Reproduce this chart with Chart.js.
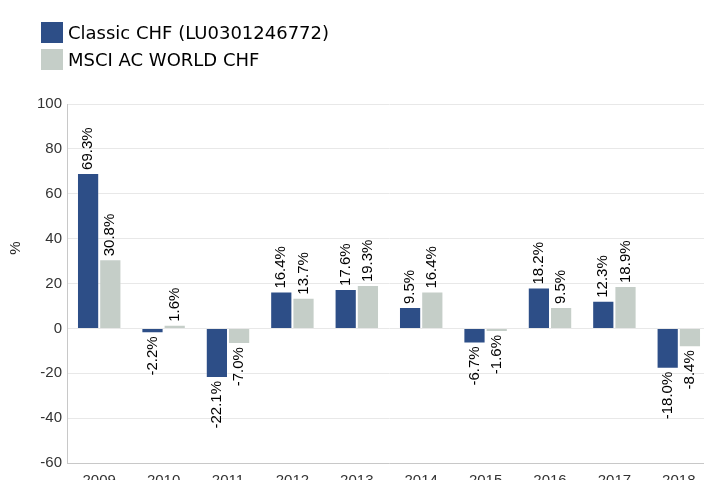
<!DOCTYPE html>
<html>
<head>
<meta charset="utf-8">
<script src="https://cdn.jsdelivr.net/npm/chart.js@4"></script>
<style>
  html, body { margin: 0; padding: 0; background: #fff; overflow: hidden; }
  #wrap { position: relative; width: 704px; height: 480px; overflow: hidden; }
  #chart { position: absolute; left: 0; top: 0; }
  #legend { position: absolute; left: 41px; top: 19px; font-family: "DejaVu Sans", sans-serif; font-size: 18px; color: #000; }
  #legend .item { display: flex; align-items: center; height: 27px; }
  #legend .box { width: 22px; height: 21px; margin-right: 5px; }
</style>
</head>
<body>
<div id="wrap">
  <canvas id="chart" width="724" height="500"></canvas>
  <div id="legend"></div>
</div>
<script>
// --- data ---
const years = ['2009', '2010', '2011', '2012', '2013', '2014', '2015', '2016', '2017', '2018'];
const fundName = 'Classic CHF (LU0301246772)';
const indexName = 'MSCI AC WORLD CHF';
const fundValues = [69.3, -2.2, -22.1, 16.4, 17.6, 9.5, -6.7, 18.2, 12.3, -18.0];
const indexValues = [30.8, 1.6, -7.0, 13.7, 19.3, 16.4, -1.6, 9.5, 18.9, -8.4];
const yTicks = [-60, -40, -20, 0, 20, 40, 60, 80, 100];

const fundColor = '#2d4e87';
const indexColor = '#c5cec8';

// vertical value labels above / below each bar
const barLabels = {
  id: 'barLabels',
  afterDatasetsDraw(chart) {
    const ctx = chart.ctx;
    ctx.save();
    ctx.font = '15px "Liberation Sans", Arial, sans-serif';
    ctx.fillStyle = '#000';
    ctx.textBaseline = 'middle';
    chart.data.datasets.forEach((ds, i) => {
      chart.getDatasetMeta(i).data.forEach((bar, j) => {
        const v = ds.data[j];
        const txt = v.toFixed(1) + '%';
        ctx.save();
        ctx.translate(bar.x, bar.y);
        ctx.rotate(-Math.PI / 2);
        if (v >= 0) {
          ctx.textAlign = 'left';
          ctx.fillText(txt, 3, 0);
        } else {
          ctx.textAlign = 'right';
          ctx.fillText(txt, -3, 0);
        }
        ctx.restore();
      });
    });
    // y axis unit
    ctx.translate(16, 248);
    ctx.rotate(-Math.PI / 2);
    ctx.textAlign = 'center';
    ctx.fillStyle = '#222';
    ctx.fillText('%', 0, 0);
    ctx.restore();
  }
};

const chart = new Chart(document.getElementById('chart'), {
  type: 'bar',
  data: {
    labels: years,
    datasets: [
      { label: fundName, data: fundValues, backgroundColor: fundColor, borderColor: 'rgba(255,255,255,0.35)', borderWidth: 1 },
      { label: indexName, data: indexValues, backgroundColor: indexColor, borderColor: 'rgba(255,255,255,0.35)', borderWidth: 1 }
    ]
  },
  options: {
    responsive: false,
    devicePixelRatio: 1,
    animation: false,
    layout: { padding: { left: 0, right: 13, top: 104, bottom: 0 } },
    datasets: { bar: { categoryPercentage: 0.69, barPercentage: 1 } },
    plugins: { legend: { display: false }, tooltip: { enabled: false } },
    scales: {
      x: {
        grid: { display: false },
        border: { display: true, color: '#c8c8c8' },
        ticks: { color: '#333', font: { family: '"Liberation Sans", Arial, sans-serif', size: 15 }, padding: 1, maxRotation: 0 },
        afterFit(scale) { scale.height = 37; }
      },
      y: {
        min: -60,
        max: 100,
        afterBuildTicks(scale) { scale.ticks = yTicks.map(v => ({ value: v })); },
        grid: { color: '#e8e8e8', drawTicks: false },
        border: { display: true, color: '#c8c8c8' },
        ticks: { color: '#333', font: { family: '"Liberation Sans", Arial, sans-serif', size: 15 }, padding: 5 },
        afterFit(scale) { scale.width = 67; }
      }
    }
  },
  plugins: [barLabels]
});

// legend built from the datasets
const legend = document.getElementById('legend');
chart.data.datasets.forEach(ds => {
  const item = document.createElement('div');
  item.className = 'item';
  item.innerHTML = '<span class="box" style="background:' + ds.backgroundColor + '"></span><span>' + ds.label + '</span>';
  legend.appendChild(item);
});
</script>
</body>
</html>
